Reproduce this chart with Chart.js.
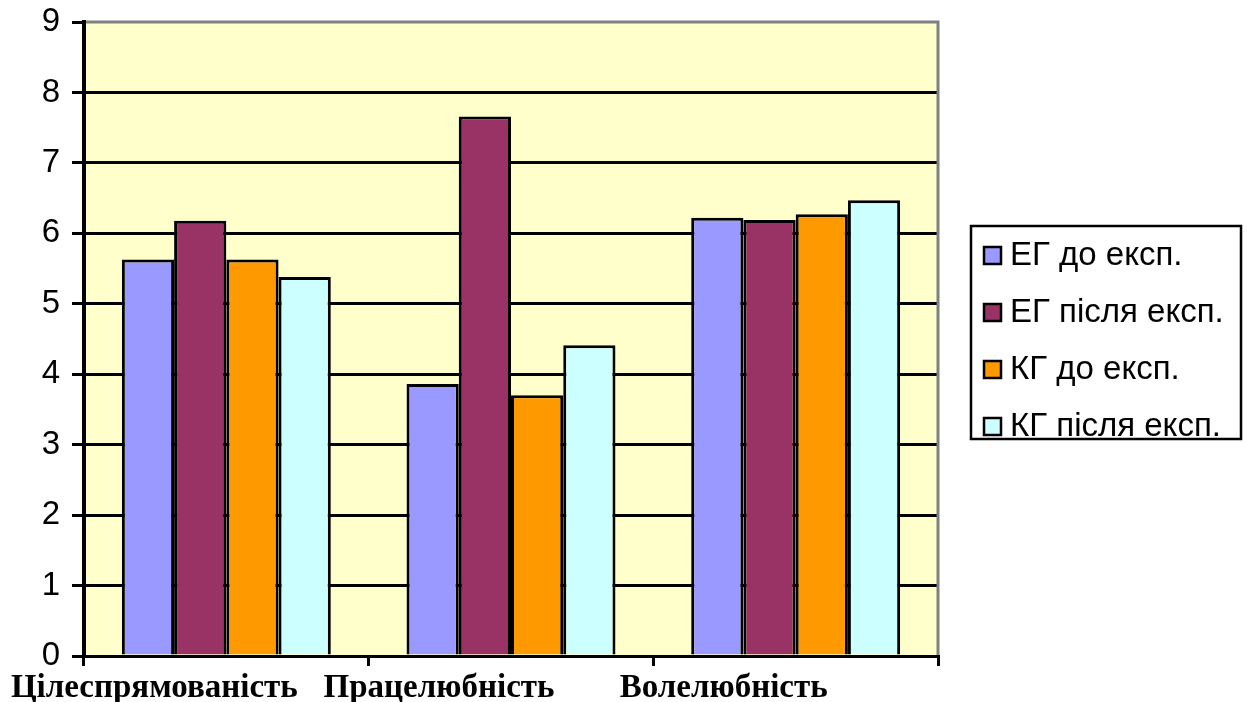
<!DOCTYPE html>
<html lang="uk">
<head>
<meta charset="utf-8">
<title>Вольові якості</title>
<script src="https://cdn.jsdelivr.net/npm/chart.js@4/dist/chart.umd.min.js"></script>
<style>
  html, body { margin: 0; padding: 0; background: #ffffff; }
  #wrap { width: 1247px; height: 702px; position: relative; }
</style>
</head>
<body>
<div id="wrap"><canvas id="chart"></canvas></div>
<script>
// Categories (qualities) and group results
const categories = ['Цілеспрямованість', 'Працелюбність', 'Волелюбність'];
const seriesNames = ['ЕГ до експ.', 'ЕГ після експ.', 'КГ до експ.', 'КГ після експ.'];
const egBefore = [5.63, 3.86, 6.22];
const egAfter  = [6.18, 7.66, 6.19];
const kgBefore = [5.63, 3.70, 6.27];
const kgAfter  = [5.38, 4.41, 6.47];
const yTicks = [0, 1, 2, 3, 4, 5, 6, 7, 8, 9];

const colors = ['#9999FF', '#993366', '#FF9900', '#CCFFFF'];
const values = [egBefore, egAfter, kgBefore, kgAfter];

// Plot area fill and grey frame on top/right
const plotFrame = {
  id: 'plotFrame',
  beforeDraw(chart) {
    const { ctx, chartArea: a } = chart;
    ctx.save();
    ctx.fillStyle = '#ffffff';
    ctx.fillRect(0, 0, chart.width, chart.height);
    ctx.fillStyle = '#FFFFCC';
    ctx.fillRect(a.left, a.top, a.right - a.left, a.bottom - a.top);
    ctx.restore();
  },
  afterDatasetsDraw(chart) {
    const { ctx, chartArea: a } = chart;
    ctx.save();
    ctx.strokeStyle = '#808080';
    ctx.lineWidth = 3;
    ctx.beginPath();
    ctx.moveTo(a.left + 2, a.top);
    ctx.lineTo(a.right, a.top);
    ctx.lineTo(a.right, a.bottom - 1);
    ctx.stroke();
    ctx.restore();
  }
};

// Boxed legend to the right of the plot
const boxedLegend = {
  id: 'boxedLegend',
  afterDraw(chart) {
    const { ctx } = chart;
    const box = { x: 971, y: 226, w: 270, h: 213 };
    ctx.save();
    ctx.fillStyle = '#ffffff';
    ctx.fillRect(box.x, box.y, box.w, box.h);
    ctx.strokeStyle = '#000000';
    ctx.lineWidth = 2.5;
    ctx.strokeRect(box.x, box.y, box.w, box.h);
    ctx.font = '33px "Liberation Sans", Arial, sans-serif';
    ctx.textBaseline = 'middle';
    ctx.textAlign = 'left';
    chart.data.datasets.forEach((ds, i) => {
      const cy = 255 + i * 57;
      ctx.fillStyle = ds.backgroundColor;
      ctx.fillRect(984, cy - 8, 17, 17);
      ctx.lineWidth = 2.5;
      ctx.strokeStyle = '#000000';
      ctx.strokeRect(984, cy - 8, 17, 17);
      ctx.fillStyle = '#000000';
      ctx.fillText(ds.label, 1010, cy + 1);
    });
    ctx.restore();
  }
};

new Chart(document.getElementById('chart'), {
  type: 'bar',
  data: {
    labels: categories,
    datasets: seriesNames.map((name, i) => ({
      label: name,
      data: values[i],
      backgroundColor: colors[i],
      borderColor: '#000000',
      borderWidth: 3,
      barPercentage: 1.0,
      categoryPercentage: 0.734
    }))
  },
  options: {
    responsive: true,
    maintainAspectRatio: false,
    animation: false,
    layout: { padding: { top: 22, right: 309, bottom: 0, left: 0 } },
    plugins: {
      legend: { display: false },
      tooltip: { enabled: false }
    },
    scales: {
      x: {
        offset: true,
        grid: {
          offset: true,
          drawOnChartArea: false,
          drawTicks: true,
          tickLength: 10,
          color: '#000000',
          lineWidth: 3
        },
        border: { color: '#000000', width: 3 },
        ticks: {
          color: '#000000',
          font: { family: '"Liberation Serif", "Times New Roman", serif', size: 33, weight: 'bold' },
          labelOffset: -72,
          padding: 3,
          maxRotation: 0,
          autoSkip: false
        },
        afterFit(s) { s.height = 46; s.paddingLeft = 0; s.paddingRight = 0; }
      },
      y: {
        min: 0,
        max: 9,
        afterBuildTicks(s) { s.ticks = yTicks.map(v => ({ value: v })); },
        grid: {
          color: ctx => (ctx.tick && ctx.tick.value === 9) ? 'rgba(0,0,0,0)' : '#000000',
          tickColor: '#000000',
          lineWidth: 3,
          tickLength: 12
        },
        border: { color: '#000000', width: 4 },
        ticks: {
          color: '#000000',
          font: { family: '"Liberation Sans", Arial, sans-serif', size: 33 },
          padding: 12
        },
        afterFit(s) { s.width = 84; s.paddingTop = 0; s.paddingBottom = 0; }
      }
    }
  },
  plugins: [plotFrame, boxedLegend]
});
</script>
</body>
</html>
